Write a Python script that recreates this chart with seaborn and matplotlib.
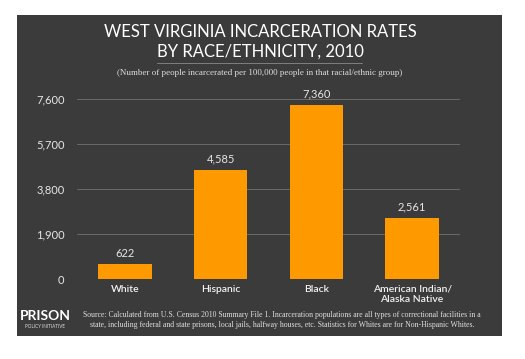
import matplotlib
matplotlib.use("Agg")
import matplotlib.pyplot as plt
import seaborn as sns
import pandas as pd
from matplotlib.patches import Rectangle
from matplotlib.lines import Line2D

categories = ["White", "Hispanic", "Black", "American Indian/\nAlaska Native"]
rates = [622, 4585, 7360, 2561]
value_labels = ["622", "4,585", "7,360", "2,561"]
yticks = [0, 1900, 3800, 5700, 7600]
ytick_labels = ["0", "1,900", "3,800", "5,700", "7,600"]

df = pd.DataFrame({"group": categories, "rate": rates})

sns.set_style("dark")
plt.rcParams['font.family'] = ['Lato', 'DejaVu Sans']

W, H = 525, 359
fig = plt.figure(figsize=(W / 100, H / 100), dpi=100)
fig.patch.set_facecolor("white")

# dark panel
panel = Rectangle((17 / W, 1 - 336 / H), (502 - 17) / W, (336 - 15) / H,
                  transform=fig.transFigure, facecolor="#3b3b3b", edgecolor="none", zorder=-10)
fig.patches.append(panel)

ax = fig.add_axes([77 / W, 1 - 279 / H, (460 - 77) / W, (279 - 99) / H])
ax.set_facecolor("none")
ax.set_zorder(2)

sns.barplot(data=df, x="group", y="rate", color="#ff9900", saturation=1,
            width=0.56, ax=ax, zorder=3, linewidth=0)

ax.set_xlim(-0.5, 3.5)
ax.set_ylim(0, 7600)
ax.set_yticks(yticks)
ax.set_yticklabels(ytick_labels, color="#e6e6e6", fontsize=8)
ax.tick_params(axis="y", length=0, pad=9)
ax.tick_params(axis="x", length=0, pad=4)
ax.set_xticks(range(len(categories)))
ax.set_xticklabels(categories, color="#f2f2f2", fontsize=7.5, fontweight="semibold", linespacing=1.25)
for y in yticks:
    ax.axhline(y, color="#6a6a6a", lw=0.7, zorder=1)
ax.grid(False)
for s in ax.spines.values():
    s.set_visible(False)
ax.set_xlabel("")
ax.set_ylabel("")

for i, (v, lab) in enumerate(zip(rates, value_labels)):
    ax.annotate(lab, (i, v), xytext=(0, 4), textcoords="offset points",
                ha="center", va="bottom", color="#e6e6e6", fontsize=8, annotation_clip=False)

# titles
fig.text(260 / W, 1 - 32 / H, "WEST VIRGINIA INCARCERATION RATES", ha="center", va="center",
         color="white", fontsize=12, family=["Lato", "DejaVu Sans"])
fig.text(260 / W, 1 - 52 / H, "BY RACE/ETHNICITY, 2010", ha="center", va="center",
         color="white", fontsize=12, family=["Lato", "DejaVu Sans"])
fig.lines.append(Line2D([157 / W, 362 / W], [1 - 63 / H, 1 - 63 / H], transform=fig.transFigure,
                        color="#8a8a8a", lw=0.6))
fig.text(260 / W, 1 - 73 / H,
         "(Number of people incarcerated per 100,000 people in that racial/ethnic group)",
         ha="center", va="center", color="#dddddd", fontsize=6.5, family=["Liberation Serif", "DejaVu Serif"])

# footer
fig.text(45 / W, 1 - 316 / H, "PRISON", ha="center", va="center", color="white",
         fontsize=10, fontweight="bold", family=["Lato", "DejaVu Sans"])
fig.text(45 / W, 1 - 326 / H, "POLICY INITIATIVE", ha="center", va="center", color="#dddddd",
         fontsize=3.3, family=["Lato", "DejaVu Sans"])
fig.text(282 / W, 1 - 320 / H,
         "Source: Calculated from U.S. Census 2010 Summary File 1. Incarceration populations are all types of correctional facilities in a\n"
         "state, including federal and state prisons, local jails, halfway houses, etc. Statistics for Whites are for Non-Hispanic Whites.",
         ha="center", va="center", color="#e0e0e0", fontsize=5.6, linespacing=1.35,
         family=["Liberation Serif", "DejaVu Serif"])

fig.savefig("out.png", dpi=100, facecolor="white")
